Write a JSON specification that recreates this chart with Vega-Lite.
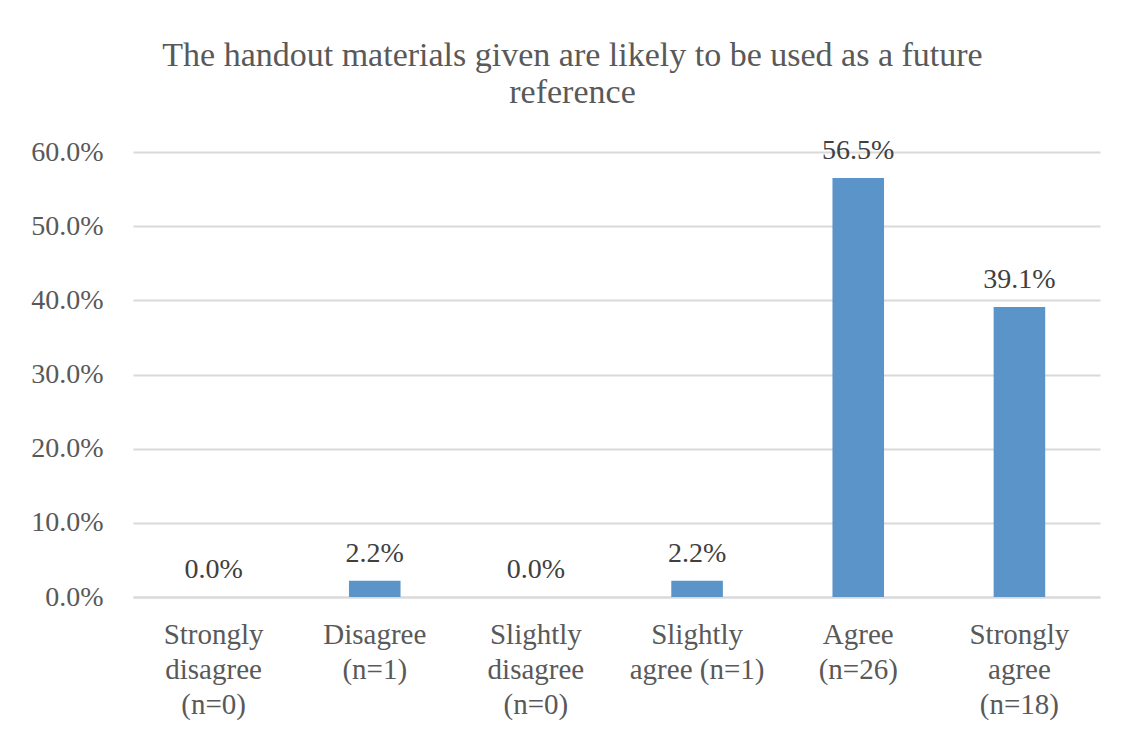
{
  "$schema": "https://vega.github.io/schema/vega-lite/v6.json",
  "width": 967,
  "height": 445,
  "autosize": "none",
  "padding": {"left": 133, "top": 152, "right": 22, "bottom": 136},
  "background": "white",
  "title": {
    "text": ["The handout materials given are likely to be used as a future", "reference"],
    "font": "Liberation Serif",
    "fontSize": 34,
    "fontWeight": "normal",
    "color": "#595959",
    "anchor": "middle",
    "frame": "group",
    "dx": -44,
    "lineHeight": 37,
    "offset": 27
  },
  "data": {
    "values": [
      {"category": "Strongly disagree (n=0)", "pct": 0.0},
      {"category": "Disagree (n=1)", "pct": 0.022},
      {"category": "Slightly disagree (n=0)", "pct": 0.0},
      {"category": "Slightly agree (n=1)", "pct": 0.022},
      {"category": "Agree (n=26)", "pct": 0.565},
      {"category": "Strongly agree (n=18)", "pct": 0.391}
    ]
  },
  "encoding": {
    "x": {
      "field": "category",
      "type": "nominal",
      "sort": null,
      "scale": {"paddingInner": 0, "paddingOuter": 0},
      "axis": {
        "title": null,
        "labelAngle": 0,
        "labelAlign": "center",
        "labelBaseline": "top",
        "labelFont": "Liberation Serif",
        "labelFontSize": 29,
        "labelColor": "#595959",
        "labelPadding": 23,
        "labelLineHeight": 35,
        "labelLimit": 0,
        "ticks": false,
        "domain": true,
        "domainColor": "#d9d9d9",
        "domainWidth": 2,
        "labelExpr": "datum.value == 'Strongly disagree (n=0)' ? ['Strongly','disagree','(n=0)'] : datum.value == 'Disagree (n=1)' ? ['Disagree','(n=1)'] : datum.value == 'Slightly disagree (n=0)' ? ['Slightly','disagree','(n=0)'] : datum.value == 'Slightly agree (n=1)' ? ['Slightly','agree (n=1)'] : datum.value == 'Agree (n=26)' ? ['Agree','(n=26)'] : ['Strongly','agree','(n=18)']"
      }
    },
    "y": {
      "field": "pct",
      "type": "quantitative",
      "scale": {"domain": [0, 0.6], "nice": false},
      "axis": {
        "title": null,
        "format": ".1%",
        "values": [0, 0.1, 0.2, 0.3, 0.4, 0.5, 0.6],
        "labelOverlap": false,
        "labelFont": "Liberation Serif",
        "labelFontSize": 28,
        "labelColor": "#595959",
        "labelPadding": 30,
        "ticks": false,
        "domain": false,
        "grid": true,
        "gridColor": "#d9d9d9",
        "gridWidth": 2
      }
    }
  },
  "layer": [
    {
      "mark": {"type": "bar", "color": "#5b94c9", "width": {"band": 0.32}}
    },
    {
      "mark": {
        "type": "text",
        "font": "Liberation Serif",
        "fontSize": 28,
        "color": "#404040",
        "baseline": "alphabetic",
        "dy": -19
      },
      "encoding": {
        "text": {"field": "pct", "type": "quantitative", "format": ".1%"}
      }
    }
  ],
  "config": {
    "view": {"stroke": null}
  }
}
